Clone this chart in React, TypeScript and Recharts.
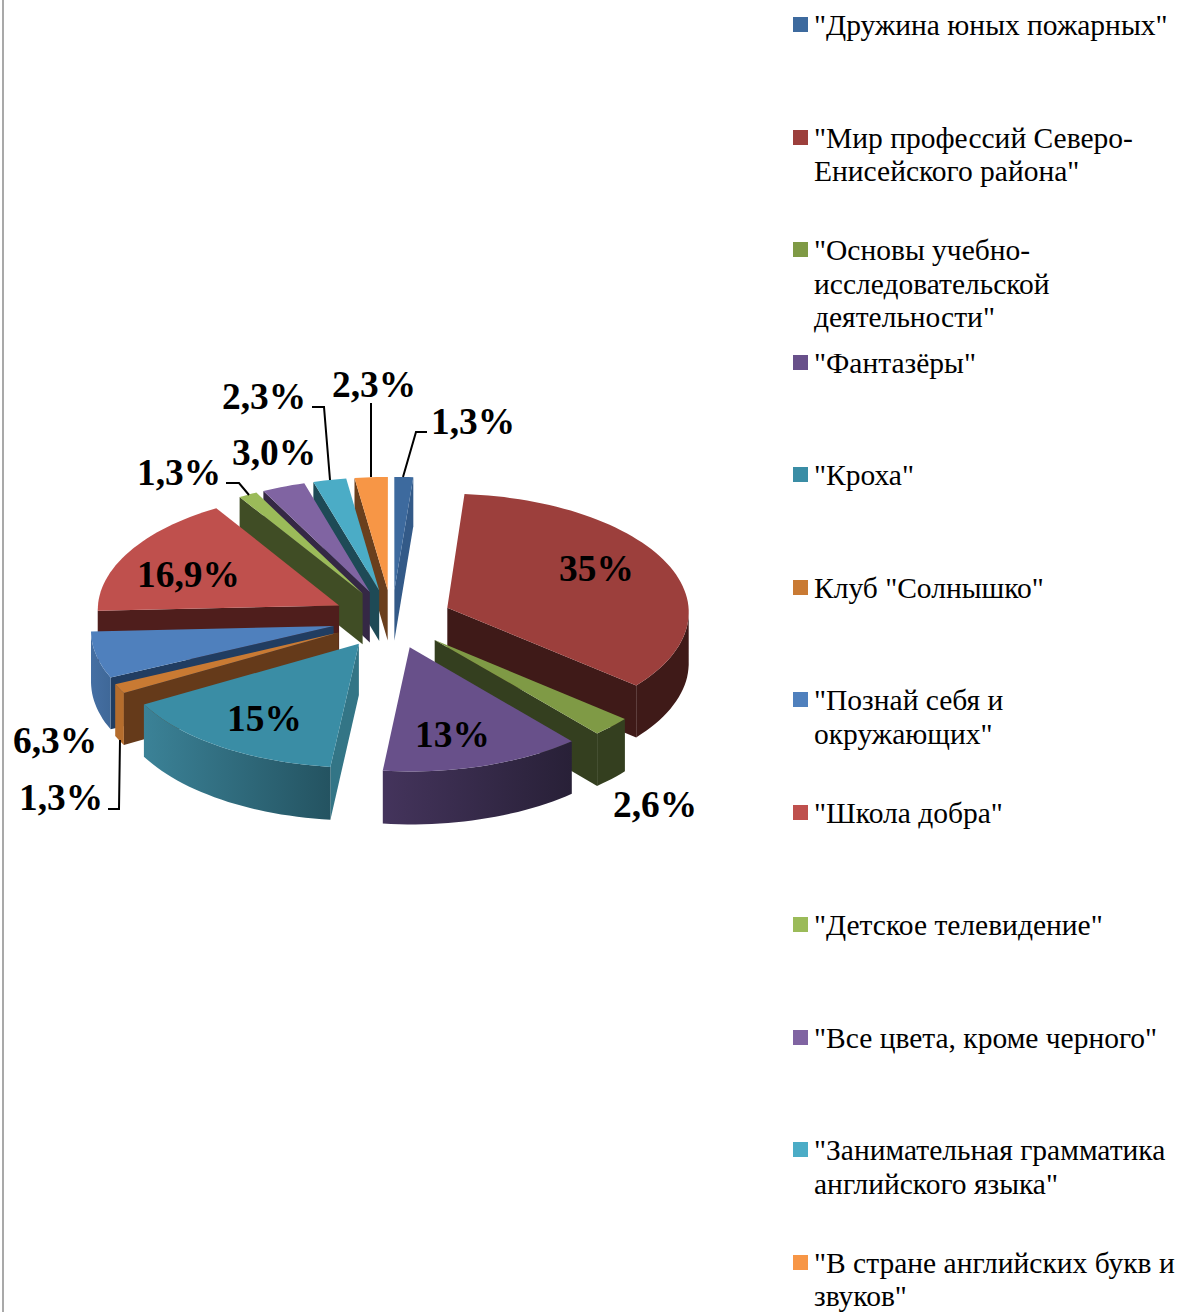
import React from 'react';
import { PieChart, Pie, Legend } from 'recharts';

const names = [
  '"Дружина юных пожарных"',
  '"Мир профессий Северо-Енисейского района"',
  '"Основы учебно-исследовательской деятельности"',
  '"Фантазёры"',
  '"Кроха"',
  'Клуб "Солнышко"',
  '"Познай себя и окружающих"',
  '"Школа добра"',
  '"Детское телевидение"',
  '"Все цвета, кроме черного"',
  '"Занимательная грамматика английского языка"',
  '"В стране английских букв и звуков"',
];
const values = [1.3, 35, 2.6, 13, 15, 1.3, 6.3, 16.9, 1.3, 3.0, 2.3, 2.3];
const valueLabels = ['1,3%', '35%', '2,6%', '13%', '15%', '1,3%', '6,3%', '16,9%', '1,3%', '3,0%', '2,3%', '2,3%'];

// face colours, one per slice
const topColors = ['#3d6a9e', '#9c3f3c', '#7f9a45', '#68508a', '#3a8da5', '#c97a33', '#4f80bd', '#bf504d', '#9bbb59', '#8064a2', '#4bacc6', '#f79646'];
const wallColors = ['#335a88', '#3f1a18', '#343f1f', '#352845', '#337586', '#653a1a', '#213d61', '#4f1e1c', '#404d25', '#352845', '#1e4a56', '#6a3f1d'];
const rimFrom = ['#335a88', '#3f1a18', '#343f1f', '#44345c', '#3b8297', '#b56d2d', '#456fa3', '#4f1e1c', '#404d25', '#352845', '#1e4a56', '#6a3f1d'];
const rimTo = ['#335a88', '#3f1a18', '#343f1f', '#282037', '#245361', '#b56d2d', '#3f6898', '#4f1e1c', '#404d25', '#352845', '#1e4a56', '#6a3f1d'];

// hand placed labels: [x, baseline], and leader lines where the picture has them
const labelSpots = [[431, 434], [559, 581], [613, 817], [415, 747], [227, 731], [19, 810], [13, 753], [137, 587], [137, 485], [232, 465], [222, 409], [332, 397]];
const leaders: Record<number, string> = {
  0: '427,432 416,432 403,477',
  5: '108,809 119,809 120,740',
  8: '226,483 239,483 249,495',
  10: '312,407 324,407 330,480',
  11: '371,403 371,477',
};

// back to front, later slices cover earlier ones
const drawOrder = [0, 11, 10, 9, 8, 7, 1, 6, 5, 2, 3, 4];

const pieData = names.map((name, i) => ({ name, value: values[i] }));

const EXPLODE = 60;
const DEPTH = 51;
const TILT = 0.49;
const PERSP = 0.00013;
const RAD = Math.PI / 180;

function Slice(props: any) {
  const { cx, cy, outerRadius: R, startAngle: s, endAngle: e, index: i } = props;
  const mid = ((s + e) / 2) * RAD;
  const ox = EXPLODE * Math.cos(mid);
  const oy = -EXPLODE * Math.sin(mid);

  const pt = (deg: number, r: number, z = 0) => {
    const X = ox + r * Math.cos(deg * RAD);
    const Y = oy - r * Math.sin(deg * RAD);
    const k = 1 + PERSP * Y;
    return `${(cx + X * k).toFixed(1)},${(cy + TILT * Y * k + z * k).toFixed(1)}`;
  };

  const steps = Math.ceil(Math.abs(s - e) / 2) + 1;
  const arc: number[] = [];
  for (let n = 0; n <= steps; n++) arc.push(s + ((e - s) * n) / steps);

  const front = arc.filter((a) => Math.sin(a * RAD) < 0);
  const rim = [...front.map((a) => pt(a, R)), ...[...front].reverse().map((a) => pt(a, R, DEPTH))].join(' ');
  const wall = (a: number) => [pt(a, 0), pt(a, R), pt(a, R, DEPTH), pt(a, 0, DEPTH)].join(' ');

  return (
    <g>
      <defs>
        <linearGradient id={`rim${i}`} x1="0" y1="0" x2="1" y2="0">
          <stop offset="0" stopColor={rimFrom[i]} />
          <stop offset="1" stopColor={rimTo[i]} />
        </linearGradient>
      </defs>
      {Math.cos(s * RAD) < 0 && <polygon points={wall(s)} fill={wallColors[i]} />}
      {Math.cos(e * RAD) > 0 && <polygon points={wall(e)} fill={wallColors[i]} />}
      {front.length > 1 && <polygon points={rim} fill={`url(#rim${i})`} />}
      <polygon points={[pt(s, 0), ...arc.map((a) => pt(a, R))].join(' ')} fill={topColors[i]} />
    </g>
  );
}

function SliceLabel(props: any) {
  const i = props.index;
  const [x, y] = labelSpots[i];
  return (
    <g>
      {leaders[i] && <polyline points={leaders[i]} fill="none" stroke="#000" strokeWidth={2} />}
      <text x={x} y={y} fontFamily="Liberation Serif" fontWeight="bold" fontSize={37.4} fill="#000">
        {valueLabels[i]}
      </text>
    </g>
  );
}

function LegendList() {
  return (
    <div>
      {names.map((name, i) => (
        <div key={name} style={{ position: 'absolute', left: 793, top: 9 + i * 112.5, display: 'flex' }}>
          <div style={{ width: 15, height: 15, marginTop: 8, marginRight: 6, background: topColors[i] }} />
          <div style={{ width: 362, fontFamily: 'Liberation Serif', fontSize: 29.5, lineHeight: '33.6px', color: '#000' }}>{name}</div>
        </div>
      ))}
    </div>
  );
}

export default function App() {
  return (
    <div style={{ position: 'absolute', left: 0, top: 0, width: 1178, height: 1312, overflow: 'hidden', background: '#fff' }}>
      <div style={{ position: 'absolute', left: 2, top: 0, width: 2, height: 1312, background: '#a9a9a9' }} />
      <PieChart width={1178} height={1312} margin={{ top: 0, right: 0, bottom: 0, left: 0 }}>
        {drawOrder.map((idx, n) => (
          <Pie
            key={idx}
            data={pieData}
            dataKey="value"
            nameKey="name"
            cx={392}
            cy={619}
            innerRadius={0}
            outerRadius={242}
            startAngle={90}
            endAngle={-270}
            stroke="none"
            isAnimationActive={false}
            labelLine={false}
            label={n === drawOrder.length - 1 ? SliceLabel : false}
            shape={(p: any, index: number) => ((p.index ?? index) === idx ? <Slice {...p} index={idx} /> : <g />)}
          />
        ))}
        <Legend content={LegendList} wrapperStyle={{ left: 0, top: 0, width: 0, height: 0 }} />
      </PieChart>
    </div>
  );
}
